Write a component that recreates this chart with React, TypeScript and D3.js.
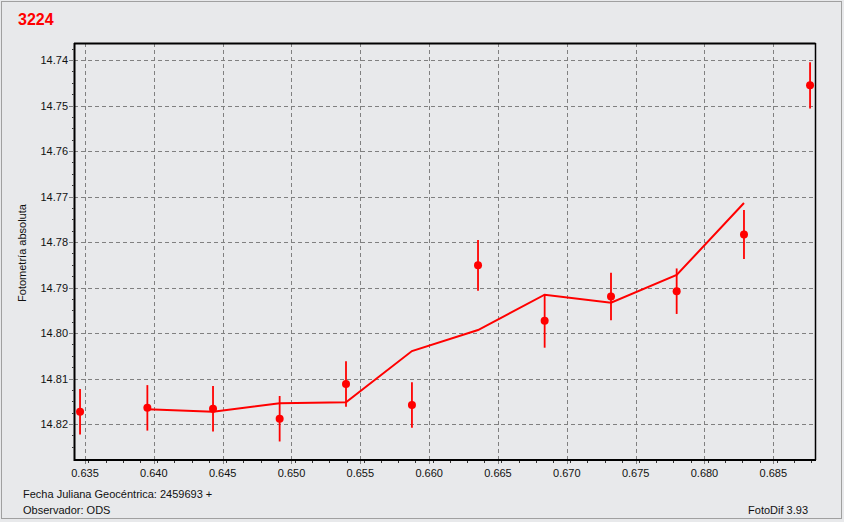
import React from "react";
import * as d3 from "d3";

const title = "3224";
const jd = [0.63464, 0.63953, 0.6443, 0.64914, 0.65396, 0.65875, 0.66355, 0.66839, 0.67321, 0.67798, 0.68287, 0.68767];
const mag = [14.81728, 14.81645, 14.81667, 14.81884, 14.81118, 14.81582, 14.78513, 14.79733, 14.79198, 14.79081, 14.77835, 14.74557];
const err = [0.005, 0.005, 0.005, 0.005, 0.005, 0.005, 0.0056, 0.0059, 0.0052, 0.005, 0.0054, 0.0051];
const modelJd = [0.63953, 0.6443, 0.64914, 0.65396, 0.65875, 0.66355, 0.66839, 0.67321, 0.67798, 0.68287];
const modelMag = [14.81677, 14.8173, 14.81545, 14.81523, 14.80396, 14.79934, 14.79158, 14.79334, 14.78725, 14.77143];
const xTicks = [0.635, 0.64, 0.645, 0.65, 0.655, 0.66, 0.665, 0.67, 0.675, 0.68, 0.685];
const yTicks = [14.74, 14.75, 14.76, 14.77, 14.78, 14.79, 14.8, 14.81, 14.82];

const W = 844, H = 522;
const L = 74, R = 815, T = 43, B = 459;
const FONT = "'Liberation Sans', Arial, sans-serif";

export default function App() {
  const x = d3.scaleLinear().domain([0.634201, 0.688029]).range([L, R]);
  const y = d3.scaleLinear().domain([14.73626, 14.82769]).range([T, B]);
  const xMinor = d3.range(0, 44).map((i) => 0.634 + i * 0.00125).filter((v) => x(v) > L + 1 && x(v) < R - 1);
  const yMinor = d3.range(0, 40).map((i) => 14.735 + i * 0.0025).filter((v) => y(v) > T + 1 && y(v) < B - 1);
  const line = d3.line<number>().x((_, i) => x(modelJd[i])).y((d) => y(d));
  const fmtX = d3.format(".3f");
  const fmtY = d3.format(".2f");

  return (
    <svg width={W} height={H} style={{ display: "block", position: "absolute", left: 0, top: 0 }} fontFamily={FONT}>
      <rect x={0} y={0} width={W} height={H} fill="#E8E9EB" />
      <rect x={1.5} y={1.5} width={840} height={517} fill="none" stroke="#A0A0A0" strokeWidth={1} />
      <text x={18} y={25} fill="#FF0000" fontSize={16} fontWeight="bold" fontFamily="'Liberation Sans', Arial, sans-serif">{title}</text>

      {/* grid */}
      {xTicks.map((t) => (
        <line key={"gx" + t} x1={Math.round(x(t)) + 0.5} x2={Math.round(x(t)) + 0.5} y1={T} y2={B} stroke="#808080" strokeDasharray="4,3" strokeWidth={1} />
      ))}
      {yTicks.map((t) => (
        <line key={"gy" + t} x1={L} x2={R} y1={Math.round(y(t)) + 0.5} y2={Math.round(y(t)) + 0.5} stroke="#808080" strokeDasharray="4,3" strokeWidth={1} />
      ))}

      {/* frame */}
      <line x1={L} x2={R + 0.5} y1={T + 0.5} y2={T + 0.5} stroke="#000" strokeWidth={2} />
      <line x1={R + 0.5} x2={R + 0.5} y1={T} y2={B + 1} stroke="#000" strokeWidth={1.5} />
      <line x1={L + 0.5} x2={L + 0.5} y1={T} y2={B + 2} stroke="#000" strokeWidth={2} />
      <line x1={L} x2={R + 1} y1={B + 1} y2={B + 1} stroke="#000" strokeWidth={2} />

      {/* ticks */}
      {xMinor.map((t) => (
        <line key={"xm" + t} x1={Math.round(x(t)) + 0.5} x2={Math.round(x(t)) + 0.5} y1={B + 2} y2={B + 4} stroke="#333" strokeWidth={1} />
      ))}
      {xTicks.map((t) => (
        <g key={"xt" + t}>
          <line x1={Math.round(x(t)) + 0.5} x2={Math.round(x(t)) + 0.5} y1={B + 2} y2={B + 5} stroke="#808080" strokeWidth={1} />
          <text x={x(t)} y={477} textAnchor="middle" fontSize={11} fill="#111">{fmtX(t)}</text>
        </g>
      ))}
      {yMinor.map((t) => (
        <line key={"ym" + t} x1={L - 2} x2={L - 0.5} y1={Math.round(y(t)) + 0.5} y2={Math.round(y(t)) + 0.5} stroke="#333" strokeWidth={1} />
      ))}
      {yTicks.map((t) => (
        <g key={"yt" + t}>
          <line x1={L - 5} x2={L} y1={Math.round(y(t)) + 0.5} y2={Math.round(y(t)) + 0.5} stroke="#808080" strokeWidth={1} />
          <text x={68} y={y(t) + 4} textAnchor="end" fontSize={11} fill="#111">{fmtY(t)}</text>
        </g>
      ))}

      <text transform={`translate(26,253) rotate(-90)`} textAnchor="middle" fontSize={11} fill="#111">Fotometría absoluta</text>

      {/* model line */}
      <path d={line(modelMag) || ""} fill="none" stroke="#FF0000" strokeWidth={2} />

      {/* data */}
      {jd.map((v, i) => (
        <g key={"p" + i}>
          <line x1={x(v)} x2={x(v)} y1={y(mag[i] - err[i])} y2={y(mag[i] + err[i])} stroke="#FF0000" strokeWidth={1.8} />
          <circle cx={x(v)} cy={y(mag[i])} r={4} fill="#FF0000" />
        </g>
      ))}

      <text x={23} y={498} fontSize={11} fill="#111">Fecha Juliana Geocéntrica: 2459693 +</text>
      <text x={23} y={514} fontSize={11} fill="#111">Observador: ODS</text>
      <text x={808} y={514} textAnchor="end" fontSize={11} fill="#111">FotoDif 3.93</text>
    </svg>
  );
}
